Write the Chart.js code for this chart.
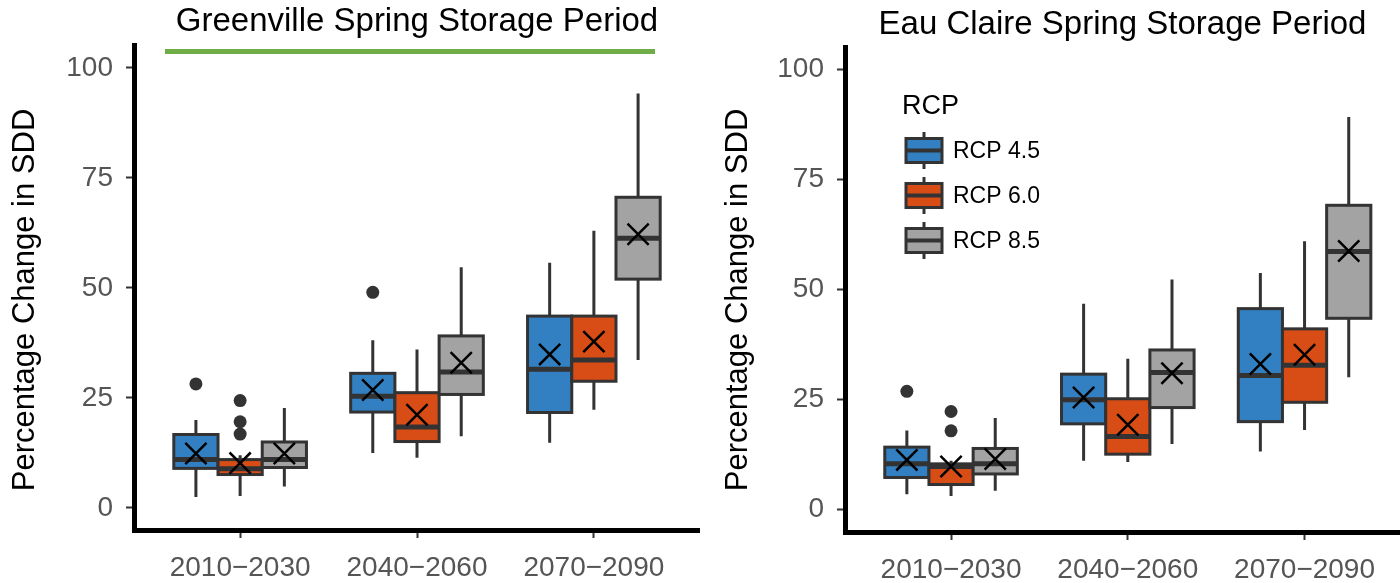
<!DOCTYPE html>
<html>
<head>
<meta charset="utf-8">
<title>Spring Storage Period</title>
<script src="https://cdn.jsdelivr.net/npm/chart.js@4.4.1/dist/chart.umd.min.js"></script>
<style>
  html, body { margin: 0; padding: 0; background: #fff; }
  #wrap { display: flex; width: 1400px; height: 583px; }
  canvas { display: block; }
</style>
</head>
<body>
<div id="wrap">
  <canvas id="greenville" width="700" height="583"></canvas>
  <canvas id="eauClaire" width="700" height="583"></canvas>
</div>
<script>
const periods = ['2010\u22122030', '2040\u22122060', '2070\u22122090'];
const scenarios = ['RCP 4.5', 'RCP 6.0', 'RCP 8.5'];
const yTicks = [0, 25, 50, 75, 100];
const xTicks = [0, 1, 2];

// box stats per period: [lower whisker, Q1, median, Q3, upper whisker]
const gvRcp45 = [[2.5, 9.0, 11.0, 16.7, 20.0], [12.5, 21.8, 25.4, 30.6, 38.1], [14.8, 21.7, 31.5, 43.6, 55.7]];
const gvRcp60 = [[2.7, 7.6, 8.9, 11.0, 12.0], [11.4, 15.1, 18.4, 26.2, 36.0], [22.3, 28.8, 33.6, 43.6, 63.0]];
const gvRcp85 = [[4.9, 9.2, 11.0, 15.0, 22.7], [16.3, 25.8, 30.9, 39.1, 54.7], [33.6, 52.0, 61.3, 70.6, 94.2]];
const gvMean45 = [12.4, 26.8, 34.9];
const gvMean60 = [10.2, 21.2, 37.8];
const gvMean85 = [12.4, 33.0, 62.2];
const gvOut45 = [[28.2], [49.0], []];
const gvOut60 = [[24.4, 19.6, 16.8], [], []];
const gvOut85 = [[], [], []];

const ecRcp45 = [[3.4, 7.2, 10.3, 14.1, 17.9], [11.0, 19.4, 24.9, 30.7, 46.7], [13.1, 19.9, 30.4, 45.6, 53.7]];
const ecRcp60 = [[3.0, 5.6, 9.7, 10.3, 11.0], [10.7, 12.5, 16.5, 25.1, 34.2], [18.0, 24.3, 32.7, 41.0, 60.9]];
const ecRcp85 = [[4.2, 8.0, 10.3, 13.8, 20.7], [14.8, 23.1, 31.1, 36.2, 52.2], [30.0, 43.4, 58.6, 69.1, 89.2]];
const ecMean45 = [11.2, 25.4, 33.0];
const ecMean60 = [9.7, 19.2, 35.1];
const ecMean85 = [11.4, 30.9, 58.7];
const ecOut45 = [[26.8], [], []];
const ecOut60 = [[22.2, 17.8], [], []];
const ecOut85 = [[], [], []];

const fills = ['#3280c2', '#d84d16', '#a3a3a3'];
const lineCol = '#333333';
const dodge = [-0.25, 0, 0.25];
const boxWidth = 0.25;
const FONT = "'Liberation Sans', Arial, Helvetica, sans-serif";

// draws whiskers, boxes and medians straight from the scales
const boxPlugin = {
  id: 'boxes',
  beforeDatasetsDraw(chart, args, opts) {
    const { ctx, scales: { x, y } } = chart;
    ctx.save();
    opts.stats.forEach((series, s) => {
      series.forEach((st, p) => {
        const [lo, q1, med, q3, hi] = st.map(v => y.getPixelForValue(v));
        const cx = x.getPixelForValue(p + dodge[s]);
        const half = (x.getPixelForValue(boxWidth) - x.getPixelForValue(0)) / 2;
        ctx.strokeStyle = lineCol;
        ctx.lineWidth = 3;
        ctx.beginPath();
        ctx.moveTo(cx, hi); ctx.lineTo(cx, q3);
        ctx.moveTo(cx, q1); ctx.lineTo(cx, lo);
        ctx.stroke();
        ctx.fillStyle = fills[s];
        ctx.fillRect(cx - half, q3, half * 2, q1 - q3);
        ctx.strokeRect(cx - half, q3, half * 2, q1 - q3);
        ctx.lineWidth = 5;
        ctx.beginPath();
        ctx.moveTo(cx - half, med); ctx.lineTo(cx + half, med);
        ctx.stroke();
      });
    });
    ctx.restore();
  },
  afterDraw(chart, args, opts) {
    const { ctx } = chart;
    ctx.save();
    // y axis title
    ctx.translate(opts.ylabelX, 300);
    ctx.rotate(-Math.PI / 2);
    ctx.fillStyle = '#000';
    ctx.font = '31px ' + FONT;
    ctx.textAlign = 'center';
    ctx.textBaseline = 'middle';
    ctx.fillText('Percentage Change in SDD', 0, 0);
    ctx.restore();

    if (opts.underline) {
      ctx.save();
      ctx.strokeStyle = '#70ad47';
      ctx.lineWidth = 5;
      ctx.beginPath();
      ctx.moveTo(165, 51.5); ctx.lineTo(655, 51.5);
      ctx.stroke();
      ctx.restore();
    }

    if (opts.legend) {
      ctx.save();
      ctx.fillStyle = '#000';
      ctx.font = '27px ' + FONT;
      ctx.textBaseline = 'middle';
      ctx.fillText('RCP', 202, 107);
      scenarios.forEach((name, i) => {
        const cy = 150.5 + 45 * i;
        ctx.strokeStyle = lineCol;
        ctx.lineWidth = 3;
        ctx.beginPath();
        ctx.moveTo(224, cy - 18.5); ctx.lineTo(224, cy + 18.5);
        ctx.stroke();
        ctx.fillStyle = fills[i];
        ctx.fillRect(206, cy - 12, 36, 24);
        ctx.strokeRect(206, cy - 12, 36, 24);
        ctx.lineWidth = 4;
        ctx.beginPath();
        ctx.moveTo(206, cy); ctx.lineTo(242, cy);
        ctx.stroke();
        ctx.fillStyle = '#000';
        ctx.font = '23px ' + FONT;
        ctx.fillText(name, 253, cy + 1);
      });
      ctx.restore();
    }
  }
};

function buildChart(id, cfg) {
  const datasets = [];
  cfg.outliers.forEach((series, s) => {
    const pts = [];
    series.forEach((vals, p) => vals.forEach(v => pts.push({ x: p + dodge[s], y: v })));
    datasets.push({
      data: pts,
      pointStyle: 'circle',
      pointRadius: 6.5,
      backgroundColor: lineCol,
      borderWidth: 0
    });
  });
  cfg.means.forEach((series, s) => {
    datasets.push({
      data: series.map((m, p) => ({ x: p + dodge[s], y: m })),
      pointStyle: 'crossRot',
      pointRadius: 15,
      borderColor: '#000',
      borderWidth: 2.5
    });
  });

  return new Chart(document.getElementById(id), {
    type: 'scatter',
    data: { datasets },
    plugins: [boxPlugin],
    options: {
      responsive: false,
      animation: false,
      devicePixelRatio: 1,
      layout: { padding: 0, autoPadding: false },
      plugins: {
        legend: { display: false },
        tooltip: { enabled: false },
        title: {
          display: true,
          text: cfg.title,
          fullSize: false,
          color: '#000',
          font: { family: FONT, size: 33, weight: 'normal' },
          padding: cfg.titlePad
        },
        boxes: {
          stats: cfg.stats,
          ylabelX: cfg.ylabelX,
          underline: cfg.underline,
          legend: cfg.legend
        }
      },
      scales: {
        x: {
          type: 'linear',
          min: -0.6,
          max: cfg.xMax,
          afterBuildTicks: sc => { sc.ticks = xTicks.map(v => ({ value: v })); },
          afterFit: sc => { sc.height = 583 - cfg.bottom; },
          ticks: {
            callback: v => periods[v],
            autoSkip: false,
            maxRotation: 0,
            padding: 13,
            color: '#555',
            font: { family: FONT, size: 28 }
          },
          grid: { drawOnChartArea: false, drawTicks: true, tickLength: 8, tickColor: lineCol, tickWidth: 2 },
          border: { display: true, color: '#000', width: 5 }
        },
        y: {
          min: cfg.yMin,
          max: cfg.yMax,
          afterBuildTicks: sc => { sc.ticks = yTicks.map(v => ({ value: v })); },
          afterFit: sc => { sc.width = cfg.yWidth; },
          ticks: {
            padding: 13,
            color: '#555',
            font: { family: FONT, size: 28 }
          },
          grid: { drawOnChartArea: false, drawTicks: true, tickLength: 8, tickColor: lineCol, tickWidth: 2 },
          border: { display: true, color: '#000', width: 5 }
        }
      }
    }
  });
}

buildChart('greenville', {
  title: 'Greenville Spring Storage Period',
  titlePad: { top: 1.7, bottom: 3.7 },
  stats: [gvRcp45, gvRcp60, gvRcp85],
  means: [gvMean45, gvMean60, gvMean85],
  outliers: [gvOut45, gvOut60, gvOut85],
  yMin: -5.0, yMax: 105.2, xMax: 2.6,
  yWidth: 134, bottom: 530,
  ylabelX: 25, underline: true, legend: false
});

buildChart('eauClaire', {
  title: 'Eau Claire Spring Storage Period',
  titlePad: { top: 5.2, bottom: 2.2 },
  stats: [ecRcp45, ecRcp60, ecRcp85],
  means: [ecMean45, ecMean60, ecMean85],
  outliers: [ecOut45, ecOut60, ecOut85],
  yMin: -5.2, yMax: 105.1, xMax: 2.54,
  yWidth: 145, bottom: 532,
  ylabelX: 38, underline: false, legend: true
});
</script>
</body>
</html>
